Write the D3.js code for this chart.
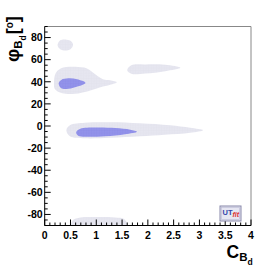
<!DOCTYPE html>
<html>
<head>
<meta charset="utf-8">
<script src="https://cdn.jsdelivr.net/npm/d3@7"></script>
<style>
  body { margin: 0; background: #fff; }
  text { font-family: "Liberation Sans", Arial, sans-serif; font-weight: bold; }
</style>
</head>
<body>
<div id="chart"></div>
<script>
// axis setup
const xDomain = [0, 4];
const yDomain = [-90, 90];
const xTickLabels = [0, 0.5, 1, 1.5, 2, 2.5, 3, 3.5, 4];
const yTickLabels = [-80, -60, -40, -20, 0, 20, 40, 60, 80];

// 95% probability regions (light), [C_Bd, phi_Bd]
const outer1 = [[0.25, 73], [0.30, 77.5], [0.40, 78.3], [0.50, 77], [0.55, 73.5], [0.50, 69.5], [0.40, 68.3], [0.30, 69.5]];
const outer2 = [[0.18, 39.4], [0.22, 48.5], [0.36, 53], [0.59, 53.5], [0.82, 52], [0.98, 46.7], [1.13, 42.2], [1.27, 41.3],
                [1.40, 39.5], [1.27, 37.2], [1.08, 35], [0.84, 31.4], [0.59, 29.1], [0.34, 29.6], [0.20, 33.2]];
const outer3 = [[1.60, 50.5], [1.68, 55], [1.95, 55.7], [2.34, 55.3], [2.63, 52.6], [2.34, 49.6], [1.95, 47.5], [1.68, 47.3]];
const outer4 = [[0.42, -3.8], [0.49, 0.7], [0.78, 2.9], [1.27, 3.4], [1.85, 2.5], [2.43, 0.7], [2.82, -1.6], [3.07, -3.8],
                [2.82, -6.1], [2.33, -7.9], [1.85, -9.3], [1.27, -10.6], [0.78, -11.1], [0.49, -9.3]];
const outer5 = [[0.52, -91], [0.55, -85.1], [0.69, -82.8], [1.08, -82.4], [1.37, -82.8], [1.54, -84.2], [1.60, -91], [1.05, -96]];

// 68% probability regions (dark)
const inner1 = [[0.27, 38.6], [0.32, 41.7], [0.46, 43.1], [0.63, 42.2], [0.79, 39], [0.65, 35.9], [0.46, 33.6], [0.32, 34.1]];
const inner2 = [[0.61, -5.6], [0.69, -2.5], [0.98, -1.4], [1.37, -1.9], [1.66, -3.4], [1.79, -5.2], [1.56, -7.4],
                [1.17, -9.3], [0.78, -9.7], [0.65, -8.8]];

const outerRegions = [outer1, outer2, outer3, outer4, outer5];
const innerRegions = [inner1, inner2];

const W = 279, H = 268;
const frame = { left: 44.7, right: 251, top: 26.5, bottom: 225.5 };

const svg = d3.select("#chart").append("svg")
    .attr("width", W)
    .attr("height", H);

const x = d3.scaleLinear().domain(xDomain).range([frame.left, frame.right]);
const y = d3.scaleLinear().domain(yDomain).range([frame.bottom, frame.top]);

const defs = svg.append("defs");
defs.append("clipPath").attr("id", "clip")
    .append("rect")
    .attr("x", frame.left).attr("y", frame.top)
    .attr("width", frame.right - frame.left).attr("height", frame.bottom - frame.top);

// faint cell grid inside the regions
function addPattern(id, base, line) {
    const p = defs.append("pattern").attr("id", id)
        .attr("patternUnits", "userSpaceOnUse")
        .attr("width", 2.6).attr("height", 2.6);
    p.append("rect").attr("width", 2.6).attr("height", 2.6).attr("fill", base);
    p.append("path").attr("d", "M0,0H2.6M0,0V2.6").attr("stroke", line).attr("stroke-width", 0.5);
}
addPattern("lightFill", "#e6e6f0", "#dfdfea");
addPattern("darkFill", "#9292ea", "#8888e2");

const line = d3.line()
    .x(d => x(d[0]))
    .y(d => y(d[1]))
    .curve(d3.curveCatmullRomClosed.alpha(0.5));

const plot = svg.append("g").attr("clip-path", "url(#clip)");

plot.selectAll(".outer")
    .data(outerRegions)
    .join("path")
    .attr("class", "outer")
    .attr("d", line)
    .attr("fill", "url(#lightFill)");

plot.selectAll(".inner")
    .data(innerRegions)
    .join("path")
    .attr("class", "inner")
    .attr("d", line)
    .attr("fill", "url(#darkFill)");

// frame (top and right in grey)
svg.append("path")
    .attr("d", `M${frame.left},${frame.top}H${frame.right}V${frame.bottom}`)
    .attr("fill", "none")
    .attr("stroke", "#888")
    .attr("stroke-width", 1);

// x axis with ticks pointing inward
const xAxis = svg.append("g").attr("transform", `translate(0,${frame.bottom})`);
xAxis.append("line")
    .attr("x1", frame.left).attr("x2", frame.right)
    .attr("stroke", "#000").attr("stroke-width", 1);
const xMinor = d3.range(0, 4.0001, 0.1);
xAxis.selectAll(".xminor")
    .data(xMinor)
    .join("line")
    .attr("x1", d => x(d)).attr("x2", d => x(d))
    .attr("y1", 0)
    .attr("y2", d => Math.abs(d * 2 - Math.round(d * 2)) < 1e-6 ? -6 : -3)
    .attr("stroke", "#000");
xAxis.selectAll(".xlab")
    .data(xTickLabels)
    .join("text")
    .attr("x", d => x(d))
    .attr("y", 13.5)
    .attr("text-anchor", "middle")
    .attr("font-size", "10.5px")
    .text(d => d);

// y axis
const yAxis = svg.append("g").attr("transform", `translate(${frame.left},0)`);
yAxis.append("line")
    .attr("y1", frame.top).attr("y2", frame.bottom)
    .attr("stroke", "#000").attr("stroke-width", 1);
const yMinor = d3.range(-90, 90.0001, 5);
yAxis.selectAll(".yminor")
    .data(yMinor)
    .join("line")
    .attr("y1", d => y(d)).attr("y2", d => y(d))
    .attr("x1", 0)
    .attr("x2", d => d % 20 === 0 ? 6 : 3)
    .attr("stroke", "#000");
yAxis.selectAll(".ylab")
    .data(yTickLabels)
    .join("text")
    .attr("x", -2)
    .attr("y", d => y(d))
    .attr("dy", "0.36em")
    .attr("text-anchor", "end")
    .attr("font-size", "10.5px")
    .text(d => d);

// x axis title: C_Bd
const xt = svg.append("text")
    .attr("x", 226.5)
    .attr("y", 257.5)
    .attr("font-size", "17.5px")
    .text("C");
xt.append("tspan").attr("font-size", "11.5px").attr("dy", 3).text("B");
xt.append("tspan").attr("font-size", "8.5px").attr("dy", 4).text("d");

// y axis title: phi_Bd [°]
const yt = svg.append("text")
    .attr("transform", "translate(19,62) rotate(-90)")
    .attr("font-size", "18.5px")
    .text("φ");
yt.append("tspan").attr("font-size", "11.5px").attr("dy", 3).text("B");
yt.append("tspan").attr("font-size", "8.5px").attr("dy", 4).text("d");
yt.append("tspan").attr("font-size", "18px").attr("dy", -7).attr("dx", 1).text("[");
yt.append("tspan").attr("font-size", "10px").attr("dy", -6).text("o");
yt.append("tspan").attr("font-size", "18px").attr("dy", 6).text("]");

// UTfit logo
const logo = svg.append("g").attr("transform", "translate(220,206)");
logo.append("rect")
    .attr("width", 21).attr("height", 15)
    .attr("fill", "#e6e6f2")
    .attr("stroke", "#8888aa").attr("stroke-width", 1);
logo.append("rect")
    .attr("x", 1.5).attr("y", 1.5)
    .attr("width", 18).attr("height", 12)
    .attr("fill", "none")
    .attr("stroke", "#bbbbd4").attr("stroke-width", 0.6);
const lt = logo.append("text")
    .attr("x", 2.5).attr("y", 9)
    .attr("font-size", "7.5px")
    .attr("font-weight", "normal")
    .attr("fill", "#3344aa")
    .text("UT");
lt.append("tspan")
    .attr("fill", "#dd3333")
    .attr("font-style", "italic")
    .attr("dy", 2)
    .attr("font-size", "7px")
    .text("fit");
</script>
</body>
</html>
